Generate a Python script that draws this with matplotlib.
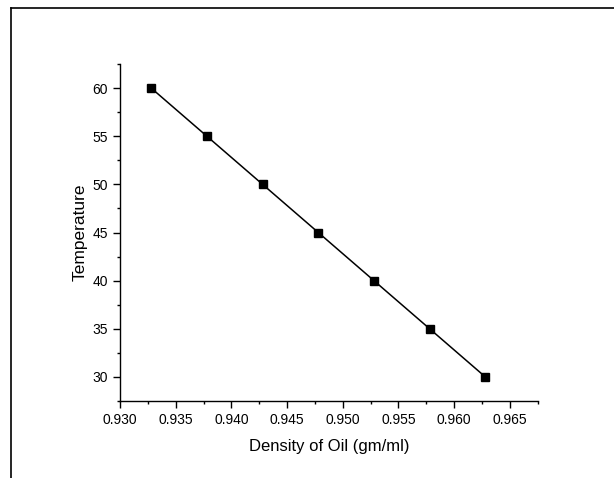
import matplotlib
matplotlib.use("Agg")
from matplotlib import pyplot as plt
from matplotlib.ticker import MultipleLocator
from matplotlib.lines import Line2D

# density of oil (gm/ml) vs temperature
density = [0.9328, 0.9378, 0.9428, 0.9478, 0.9528, 0.9578, 0.9628]
temperature = [60, 55, 50, 45, 40, 35, 30]

plt.rcParams['font.family'] = ['Liberation Sans', 'DejaVu Sans']

fig = plt.figure(figsize=(6.14, 4.78), dpi=100)
ax = fig.add_axes([120 / 614, 1 - 401 / 478, (537.7 - 120) / 614, (401 - 64) / 478])

ax.plot(density, temperature, color='black', linewidth=1.1,
        marker='s', markersize=5.5, markerfacecolor='black', markeredgecolor='black')

ax.set_xlim(0.930, 0.9675)
ax.set_ylim(27.5, 62.5)
ax.xaxis.set_major_locator(MultipleLocator(0.005))
ax.xaxis.set_minor_locator(MultipleLocator(0.0025))
ax.yaxis.set_major_locator(MultipleLocator(5))
ax.yaxis.set_minor_locator(MultipleLocator(2.5))
ax.xaxis.set_major_formatter(plt.FormatStrFormatter('%.3f'))

for side in ('top', 'right'):
    ax.spines[side].set_visible(False)
for side in ('left', 'bottom'):
    ax.spines[side].set_linewidth(1.0)

ax.tick_params(which='major', direction='out', length=5, width=1, labelsize=10)
ax.tick_params(axis='x', which='major', pad=4)
ax.tick_params(axis='y', which='major', pad=3.5)
ax.tick_params(which='minor', direction='out', length=2.5, width=1)

ax.set_xlabel('Density of Oil (gm/ml)', fontsize=12, labelpad=8)
ax.set_ylabel('Temperature', fontsize=12.5, labelpad=4)

# frame lines on top and left of the figure
fig.add_artist(Line2D([10.5 / 614, 1], [1 - 8 / 478, 1 - 8 / 478], color='black', linewidth=1.2,
                      transform=fig.transFigure))
fig.add_artist(Line2D([10.5 / 614, 10.5 / 614], [0, 1 - 8 / 478], color='black', linewidth=1.2,
                      transform=fig.transFigure))

fig.savefig('out.png', dpi=100)
